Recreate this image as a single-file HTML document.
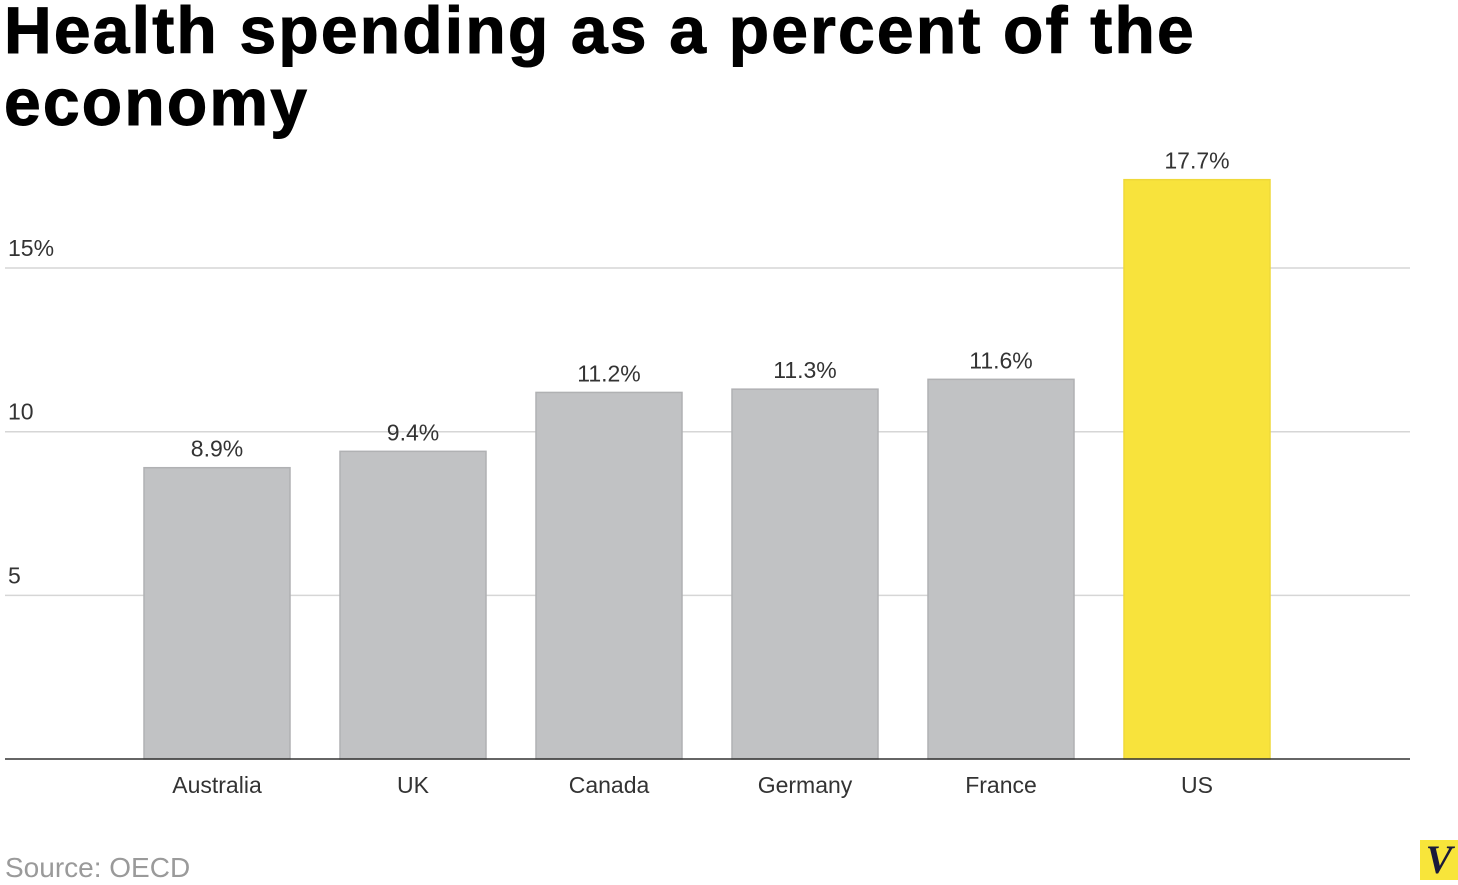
<!DOCTYPE html>
<html><head><meta charset="utf-8"><style>
body{margin:0;width:1458px;height:885px;background:#fff;overflow:hidden;font-family:"Liberation Sans",sans-serif;}
#title{position:absolute;left:4px;top:-6px;margin:0;font-size:66px;line-height:72px;font-weight:bold;color:#000;letter-spacing:2.2px;width:1400px;-webkit-text-stroke:1px #000;}
svg{position:absolute;left:0;top:0;}
#src{position:absolute;left:5px;top:852px;font-size:28px;color:#9a9a9a;}
#logo{position:absolute;left:1420px;top:840px;width:38px;height:40px;background:#f8e53a;font-family:"Liberation Serif",serif;font-style:italic;font-weight:bold;font-size:40px;line-height:40px;text-align:center;color:#1a1a3a;}
</style></head><body>
<h1 id="title">Health spending as a percent of the<br>economy</h1>
<svg id="chart" width="1458" height="885"></svg>
<div id="src">Source: OECD</div>
<div id="logo">V</div>
<script>
const categories=["Australia","UK","Canada","Germany","France","US"];
const values=[8.9,9.4,11.2,11.3,11.6,17.7];
const valueLabels=["8.9%","9.4%","11.2%","11.3%","11.6%","17.7%"];
const ticks=[5,10,15];
const tickLabels=["5","10","15%"];
const ns="http://www.w3.org/2000/svg";
const svg=document.getElementById('chart');
const y0=759,pxPer=32.73;
const y=v=>y0-v*pxPer;
const x=i=>217+i*196;
function mk(t,a){const e=document.createElementNS(ns,t);for(const k in a)e.setAttribute(k,a[k]);svg.appendChild(e);return e;}
ticks.forEach((t,i)=>{
 const l=mk('line',{x1:5,x2:1410,y1:y(t),y2:y(t),stroke:'#d6d6d6','stroke-width':1.5});
 
 
 const tx=mk('text',{x:8,y:y(t)-12,'font-size':23,fill:'#333'});
 tx.textContent=tickLabels[i];
 
 
});
categories.forEach((c,i)=>{
 const us=c==="US";
 const r=mk('rect',{x:x(i)-73,y:y(values[i]),width:146,height:y0-y(values[i]),fill:us?'#f8e33c':'#c1c2c4',stroke:us?'#efd93a':'#b0b1b3','stroke-width':1.5});
 
 
 const v=mk('text',{x:x(i),y:y(values[i])-11,'font-size':23,fill:'#333','text-anchor':'middle'});
 v.textContent=valueLabels[i];
 
 
 const cl=mk('text',{x:x(i),y:793,'font-size':23,fill:'#333','text-anchor':'middle'});
 cl.textContent=c;
 
 
});
const ax=mk('line',{x1:5,x2:1410,y1:y0,y2:y0,stroke:'#333','stroke-width':1.5});


</script>
</body></html>
